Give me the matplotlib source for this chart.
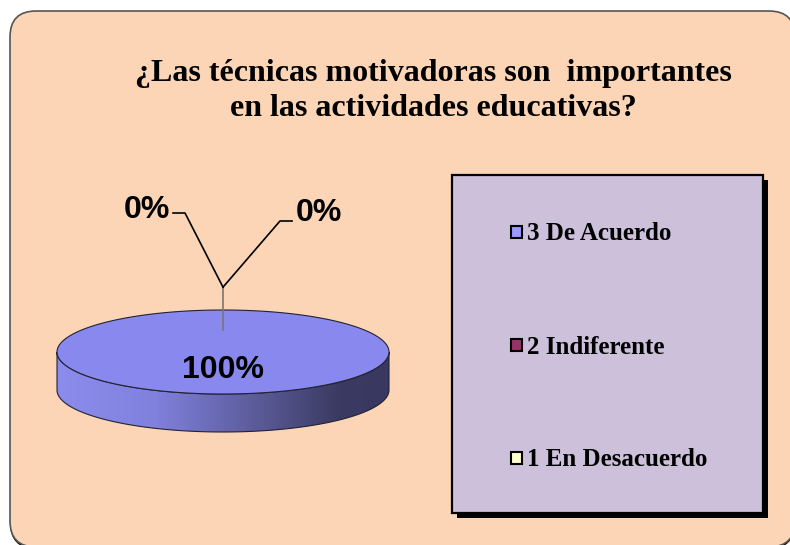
import numpy as np
import matplotlib
matplotlib.use("Agg")
import matplotlib.pyplot as plt
from matplotlib.patches import FancyBboxPatch, Rectangle, Polygon
from matplotlib.colors import LinearSegmentedColormap

# datos
categorias = ["3 De Acuerdo", "2 Indiferente", "1 En Desacuerdo"]
porcentajes = [100, 0, 0]
colores = ["#8888EE", "#993366", "#FFFFCC"]
colores_leyenda = ["#9999FF", "#993366", "#FFFFCC"]
titulo = "¿Las técnicas motivadoras son  importantes\nen las actividades educativas?"

W, H = 790, 545
fig = plt.figure(figsize=(W / 100, H / 100), dpi=100)
ax = fig.add_axes([0, 0, 1, 1])
ax.set_xlim(0, W)
ax.set_ylim(H, 0)
ax.axis("off")

# marco redondeado
sombra = FancyBboxPatch((10, 13), 785, 536, boxstyle="round,pad=0,rounding_size=26",
                        facecolor="black", edgecolor="none", zorder=0)
ax.add_patch(sombra)
marco = FancyBboxPatch((10, 11), 785, 536, boxstyle="round,pad=0,rounding_size=26",
                       facecolor="#FBD5B5", edgecolor="#555555", linewidth=1.2, zorder=1)
ax.add_patch(marco)

ax.text(433, 91, titulo, ha="center", va="center", fontsize=23, fontweight="bold",
        family="Liberation Serif", linespacing=1.28, zorder=5)

# pastel 3D
cx, cy, a, b, prof = 223, 352, 166, 42, 38

t = np.linspace(np.pi, 2 * np.pi, 200)
xs = cx + a * np.cos(t)
ys = cy - b * np.sin(t)
lado = np.concatenate([np.column_stack([xs, ys]), np.column_stack([xs[::-1], ys[::-1] + prof])])
lado_patch = Polygon(lado, closed=True, facecolor="none", edgecolor="#222233", linewidth=0.8, zorder=3)
ax.add_patch(lado_patch)
cmap = LinearSegmentedColormap.from_list("lado", [(0, "#8C8CEE"), (0.3, "#8080DD"),
                                                  (0.65, "#55558F"), (0.85, "#3A3A62"), (1, "#383860")])
grad = np.linspace(0, 1, 256).reshape(1, -1)
im = ax.imshow(grad, cmap=cmap, extent=(cx - a, cx + a, cy + b + prof + 2, cy - 2),
               aspect="auto", zorder=2)
im.set_clip_path(lado_patch)

total = sum(porcentajes)
inicio = 90.0
angulos = []
for v, c in zip(porcentajes, colores):
    barrido = 360.0 * v / total
    t0, t1 = inicio - barrido, inicio
    angulos.append((t0 + t1) / 2)
    if barrido > 0:
        tt = np.radians(np.linspace(t0, t1, 300))
        pts = np.column_stack([cx + a * np.cos(tt), cy - b * np.sin(tt)])
        if barrido < 360:
            pts = np.vstack([[cx, cy], pts])
        ax.add_patch(Polygon(pts, closed=True, facecolor=c, edgecolor="#222233",
                             linewidth=0.8, zorder=4))
    inicio -= barrido

# etiquetas
ax.text(cx, cy + 18, f"{porcentajes[0]}%", ha="center", va="center", fontsize=23,
        fontweight="bold", family="Liberation Sans", zorder=6)
ang = np.radians(angulos[1])
ax_x, ax_y = cx, cy - 0.52 * b * np.sin(ang)
codo_y = ax_y - 43
ax.plot([ax_x, ax_x], [ax_y, codo_y], color="#777777", linewidth=1.2, zorder=5)
# etiqueta izquierda (Indiferente) y derecha (En Desacuerdo)
ax.plot([ax_x, 185, 173], [codo_y, 213, 213], color="black", linewidth=1.2, zorder=5)
ax.plot([ax_x, 280, 292], [codo_y, 221, 221], color="black", linewidth=1.2, zorder=5)
ax.text(170, 210, f"{porcentajes[1]}%", ha="right", va="center", fontsize=23,
        fontweight="bold", family="Liberation Sans", zorder=6)
ax.text(296, 213, f"{porcentajes[2]}%", ha="left", va="center", fontsize=23,
        fontweight="bold", family="Liberation Sans", zorder=6)

# leyenda
ax.add_patch(Rectangle((457, 180), 311, 338, facecolor="black", edgecolor="none", zorder=2))
ax.add_patch(Rectangle((452, 175), 311, 338, facecolor="#CCC0DA", edgecolor="black",
                       linewidth=1.6, zorder=3))
for i, (cat, col) in enumerate(zip(categorias, colores_leyenda)):
    y = 232 + i * 113
    ax.add_patch(Rectangle((511, y - 6), 11, 12, facecolor=col, edgecolor="black",
                           linewidth=1.5, zorder=4))
    ax.text(527, y + 2, cat, ha="left", va="center", fontsize=18, fontweight="bold",
            family="Liberation Serif", zorder=5)

fig.savefig("out.png", dpi=100, facecolor="white")
